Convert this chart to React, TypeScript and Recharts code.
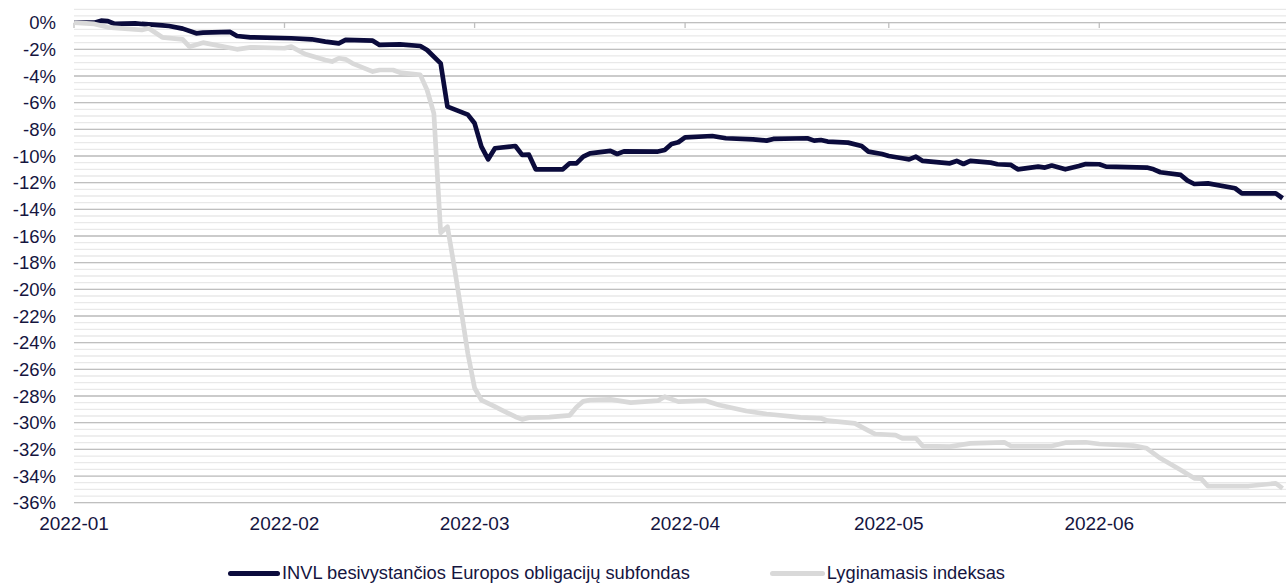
import React from 'react';
import { LineChart, Line, XAxis, YAxis, CartesianGrid, ReferenceLine, Legend } from 'recharts';

// ---- data ----
const seriesNames = ['INVL besivystančios Europos obligacijų subfondas', 'Lyginamasis indeksas'];

const invlDates = [
  '2022-01-01', '2022-01-04', '2022-01-05', '2022-01-06', '2022-01-07', '2022-01-10', '2022-01-11', '2022-01-14',
  '2022-01-15', '2022-01-17', '2022-01-19', '2022-01-20', '2022-01-24', '2022-01-25', '2022-01-27', '2022-02-02',
  '2022-02-05', '2022-02-07', '2022-02-09', '2022-02-10', '2022-02-14', '2022-02-15', '2022-02-18', '2022-02-21',
  '2022-02-22', '2022-02-24', '2022-02-25', '2022-02-28', '2022-03-01', '2022-03-02', '2022-03-03', '2022-03-04',
  '2022-03-07', '2022-03-08', '2022-03-09', '2022-03-10', '2022-03-14', '2022-03-15', '2022-03-16', '2022-03-17',
  '2022-03-18', '2022-03-21', '2022-03-22', '2022-03-23', '2022-03-28', '2022-03-29', '2022-03-30', '2022-03-31',
  '2022-04-01', '2022-04-05', '2022-04-07', '2022-04-11', '2022-04-13', '2022-04-14', '2022-04-19', '2022-04-20',
  '2022-04-21', '2022-04-22', '2022-04-25', '2022-04-27', '2022-04-28', '2022-04-30', '2022-05-01', '2022-05-03',
  '2022-05-04', '2022-05-05', '2022-05-06', '2022-05-10', '2022-05-11', '2022-05-12', '2022-05-13', '2022-05-16',
  '2022-05-17', '2022-05-19', '2022-05-20', '2022-05-23', '2022-05-24', '2022-05-25', '2022-05-27', '2022-05-29',
  '2022-05-30', '2022-06-01', '2022-06-02', '2022-06-08', '2022-06-09', '2022-06-10', '2022-06-13', '2022-06-14',
  '2022-06-15', '2022-06-17', '2022-06-21', '2022-06-22', '2022-06-27', '2022-06-28',
];
const invlValues = [
  0, 0, 0.15, 0.12, -0.1, -0.05, -0.1, -0.2,
  -0.25, -0.45, -0.8, -0.75, -0.7, -1.0, -1.1, -1.17,
  -1.25, -1.42, -1.55, -1.3, -1.35, -1.67, -1.63, -1.75,
  -2.05, -3.05, -6.3, -6.9, -7.55, -9.3, -10.25, -9.42,
  -9.25, -9.92, -9.9, -11.0, -11.0, -10.55, -10.55, -10.05,
  -9.8, -9.62, -9.85, -9.65, -9.67, -9.55, -9.1, -8.97,
  -8.6, -8.5, -8.67, -8.75, -8.85, -8.72, -8.67, -8.85,
  -8.8, -8.92, -9.0, -9.25, -9.67, -9.85, -10.0, -10.17,
  -10.25, -10.05, -10.37, -10.55, -10.37, -10.6, -10.37, -10.5,
  -10.62, -10.67, -11.0, -10.8, -10.87, -10.72, -11.0, -10.75,
  -10.6, -10.62, -10.8, -10.87, -11.0, -11.22, -11.42, -11.85,
  -12.1, -12.05, -12.42, -12.8, -12.8, -13.17,
];

const benchDates = [
  '2022-01-01', '2022-01-04', '2022-01-06', '2022-01-09', '2022-01-11', '2022-01-12', '2022-01-14', '2022-01-17',
  '2022-01-18', '2022-01-20', '2022-01-25', '2022-01-27', '2022-02-01', '2022-02-02', '2022-02-04', '2022-02-07',
  '2022-02-08', '2022-02-09', '2022-02-10', '2022-02-11', '2022-02-14', '2022-02-15', '2022-02-17', '2022-02-18',
  '2022-02-21', '2022-02-22', '2022-02-23', '2022-02-24', '2022-02-25', '2022-02-26', '2022-02-27', '2022-02-28',
  '2022-03-01', '2022-03-02', '2022-03-04', '2022-03-05', '2022-03-07', '2022-03-08', '2022-03-09', '2022-03-12',
  '2022-03-15', '2022-03-16', '2022-03-17', '2022-03-18', '2022-03-21', '2022-03-24', '2022-03-28', '2022-03-29',
  '2022-03-31', '2022-04-04', '2022-04-06', '2022-04-10', '2022-04-13', '2022-04-18', '2022-04-21', '2022-04-22',
  '2022-04-26', '2022-04-28', '2022-04-29', '2022-05-02', '2022-05-03', '2022-05-05', '2022-05-06', '2022-05-10',
  '2022-05-13', '2022-05-18', '2022-05-19', '2022-05-25', '2022-05-27', '2022-05-30', '2022-06-01', '2022-06-06',
  '2022-06-08', '2022-06-10', '2022-06-13', '2022-06-15', '2022-06-16', '2022-06-17', '2022-06-23', '2022-06-27',
  '2022-06-28',
];
const benchValues = [
  0, -0.1, -0.35, -0.47, -0.55, -0.42, -1.1, -1.25,
  -1.8, -1.5, -2.0, -1.85, -1.92, -1.8, -2.35, -2.8,
  -2.92, -2.67, -2.75, -3.05, -3.67, -3.55, -3.55, -3.75,
  -3.92, -5.05, -6.8, -15.75, -15.3, -18.3, -21.5, -24.8,
  -27.4, -28.3, -28.8, -29.05, -29.55, -29.75, -29.62, -29.58,
  -29.45, -28.85, -28.4, -28.3, -28.25, -28.5, -28.35, -28.05,
  -28.42, -28.35, -28.67, -29.12, -29.35, -29.6, -29.67, -29.85,
  -30.05, -30.6, -30.85, -30.93, -31.17, -31.17, -31.75, -31.8,
  -31.55, -31.47, -31.75, -31.75, -31.5, -31.47, -31.6, -31.72,
  -31.92, -32.67, -33.55, -34.17, -34.2, -34.75, -34.75, -34.55,
  -34.92,
];

const monthTickLabels = ['2022-01', '2022-02', '2022-03', '2022-04', '2022-05', '2022-06'];
const yTickValues = [0, -2, -4, -6, -8, -10, -12, -14, -16, -18, -20, -22, -24, -26, -28, -30, -32, -34, -36];

// ---- helpers ----
const DAY_MS = 86400000;
const START = Date.UTC(2022, 0, 1);
const toDay = (s: string) => (Date.parse(s + 'T00:00:00Z') - START) / DAY_MS;

const invlData = invlDates.map((d, i) => ({ day: toDay(d), value: invlValues[i] }));
const benchData = benchDates.map((d, i) => ({ day: toDay(d), value: benchValues[i] }));
const monthTicks = monthTickLabels.map((m) => toDay(m + '-01'));
const tickLabelOf = (day: number) => {
  const i = monthTicks.indexOf(day);
  return i >= 0 ? monthTickLabels[i] : '';
};

const Y_MIN = -36;
const Y_MAX = 1;
const minorValues: number[] = [];
for (let v = Y_MAX; v >= Y_MIN - 1e-9; v -= 0.5) minorValues.push(Math.round(v * 10) / 10);

const FONT = '"Liberation Sans", Arial, sans-serif';
const TEXT = '#15153f';
const DARK = '#0b0b3c';
const LIGHT = '#d9d9d9';

const renderLegend = () => (
  <div
    style={{
      display: 'flex',
      alignItems: 'center',
      paddingLeft: 228,
      fontSize: 18.3,
      color: TEXT,
      fontFamily: FONT,
      lineHeight: '20px',
      whiteSpace: 'nowrap',
    }}
  >
    <span style={{ display: 'inline-block', width: 52, height: 5, background: DARK, borderRadius: 3 }} />
    <span style={{ marginLeft: 2 }}>{seriesNames[0]}</span>
    <span style={{ display: 'inline-block', width: 55, height: 5, background: LIGHT, borderRadius: 3, marginLeft: 80 }} />
    <span style={{ marginLeft: 2 }}>{seriesNames[1]}</span>
  </div>
);

export default function App() {
  return (
    <div style={{ position: 'absolute', left: 0, top: 0, width: 1286, height: 583, background: '#fff', overflow: 'hidden' }}>
      <LineChart width={1286} height={583} margin={{ top: 9.3, right: 0, bottom: 50.3, left: 0 }}>
        <CartesianGrid vertical={false} horizontalValues={minorValues} stroke="#e9e9e9" strokeWidth={1.3} />
        <CartesianGrid vertical={false} horizontalValues={yTickValues} stroke="#bfbfbf" strokeWidth={1.3} />
        <XAxis
          type="number"
          dataKey="day"
          domain={[0, 178.5]}
          allowDataOverflow
          ticks={monthTicks}
          tickFormatter={tickLabelOf}
          axisLine={false}
          tickLine={false}
          tickSize={0}
          tickMargin={13.5}
          height={30}
          interval={0}
          tick={{ fill: TEXT, fontSize: 19, fontFamily: FONT }}
        />
        <YAxis
          type="number"
          domain={[Y_MIN, Y_MAX]}
          ticks={yTickValues}
          tickFormatter={(v: number) => `${v}%`}
          axisLine={false}
          tickLine={false}
          tickSize={0}
          tickMargin={18}
          width={74}
          interval={0}
          tick={{ fill: TEXT, fontSize: 18.5, fontFamily: FONT }}
        />
        {monthTicks.map((d) => (
          <ReferenceLine
            key={d}
            segment={[{ x: d, y: 0 }, { x: d, y: -0.4 }]}
            stroke="#bfbfbf"
            strokeWidth={1.3}
          />
        ))}
        <Legend
          layout="horizontal"
          verticalAlign="middle"
          align="center"
          content={renderLegend}
          wrapperStyle={{ top: 563, left: 0, width: 1286 }}
        />
        <Line
          data={invlData}
          dataKey="value"
          name={seriesNames[0]}
          type="linear"
          stroke={DARK}
          strokeWidth={4.7}
          strokeLinejoin="round"
          dot={false}
          activeDot={false}
          isAnimationActive={false}
        />
        <Line
          data={benchData}
          dataKey="value"
          name={seriesNames[1]}
          type="linear"
          stroke={LIGHT}
          strokeWidth={4.7}
          strokeLinejoin="round"
          dot={false}
          activeDot={false}
          isAnimationActive={false}
        />
      </LineChart>
    </div>
  );
}
